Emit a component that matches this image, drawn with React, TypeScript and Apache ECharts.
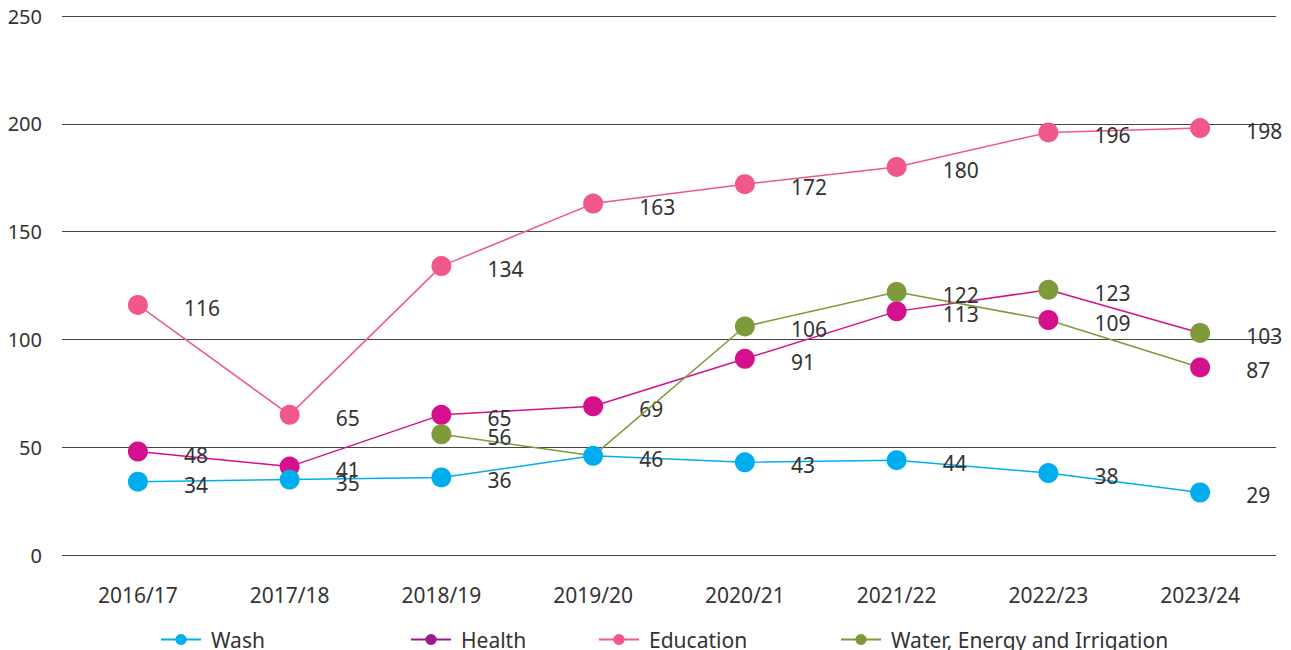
import React, { useEffect, useRef } from "react";
import * as echarts from "echarts";

const categories = ["2016/17", "2017/18", "2018/19", "2019/20", "2020/21", "2021/22", "2022/23", "2023/24"];
const wash = [34, 35, 36, 46, 43, 44, 38, 29];
const health = [48, 41, 65, 69, 91, 113, 123, 103];
const education = [116, 65, 134, 163, 172, 180, 196, 198];
const water = [null, null, 56, 46, 106, 122, 109, 87];
const yTicks = [0, 50, 100, 150, 200, 250];

// markers in the reference swap colour at these indices
const swappedIdx = [6, 7];
const hiddenWaterIdx = 3;

const C_WASH = "#00aeef";
const C_HEALTH = "#d5108c";
const C_HEALTH_LEG = "#9c1c8c";
const C_EDU = "#f0588b";
const C_WATER = "#7e9a3b";

const FONT = "Noto Sans";

export default function App() {
  const ref = useRef<HTMLDivElement>(null);
  useEffect(() => {
    if (!ref.current) return;
    const chart = echarts.init(ref.current, undefined, { renderer: "svg" });
    const label = {
      show: true,
      position: "right" as const,
      distance: 36,
      offset: [0, 3],
      color: "#333",
      fontSize: 21,
      fontFamily: FONT,
    };
    const mk = (name: string, data: any[], color: string, z: number) => ({
      name,
      type: "line",
      data,
      symbol: "circle",
      symbolSize: 20,
      showSymbol: true,
      connectNulls: false,
      z,
      lineStyle: { width: 1.5, color },
      itemStyle: { color },
      label,
      emphasis: { disabled: true },
    });
    const healthData = health.map((v, i) =>
      swappedIdx.includes(i) ? { value: v, itemStyle: { color: C_WATER } } : v
    );
    const waterData = water.map((v, i) => {
      if (i === hiddenWaterIdx) return { value: v, symbolSize: 0, label: { show: false } };
      if (swappedIdx.includes(i)) return { value: v, itemStyle: { color: C_HEALTH } };
      return v;
    });
    const legendBase = (name: string, color: string, left: number) => ({
      top: 624,
      left,
      itemWidth: 40,
      itemHeight: 14,
      textStyle: { fontSize: 21, fontFamily: FONT, color: "#333", padding: [0, 0, 0, 5] },
      data: [{ name, itemStyle: { color }, lineStyle: { color, width: 2 } }],
      selectedMode: false,
    });
    chart.setOption({
      animation: false,
      grid: { left: 62, right: 15, top: 16, bottom: 95 },
      legend: [
        legendBase("Wash", C_WASH, 155),
        legendBase("Health", C_HEALTH_LEG, 405),
        legendBase("Education", C_EDU, 593),
        legendBase("Water, Energy and Irrigation", C_WATER, 835),
      ],
      xAxis: {
        type: "category",
        data: categories,
        axisLine: { show: false },
        axisTick: { show: false },
        axisLabel: { fontSize: 21, fontFamily: FONT, color: "#333", margin: 29 },
      },
      yAxis: {
        type: "value",
        min: yTicks[0],
        max: yTicks[yTicks.length - 1],
        interval: 50,
        axisLine: { show: false },
        axisTick: { show: false },
        axisLabel: { fontSize: 20, fontFamily: FONT, color: "#333", margin: 20 },
        splitLine: { lineStyle: { color: "#444", width: 1 } },
      },
      series: [
        mk("Education", education, C_EDU, 2),
        mk("Health", healthData, C_HEALTH, 3),
        mk("Water, Energy and Irrigation", waterData, C_WATER, 4),
        mk("Wash", wash, C_WASH, 5),
      ],
    });
    return () => chart.dispose();
  }, []);
  return (
    <div
      ref={ref}
      style={{ position: "fixed", left: 0, top: 0, width: 1291, height: 650, background: "#fff" }}
    />
  );
}
